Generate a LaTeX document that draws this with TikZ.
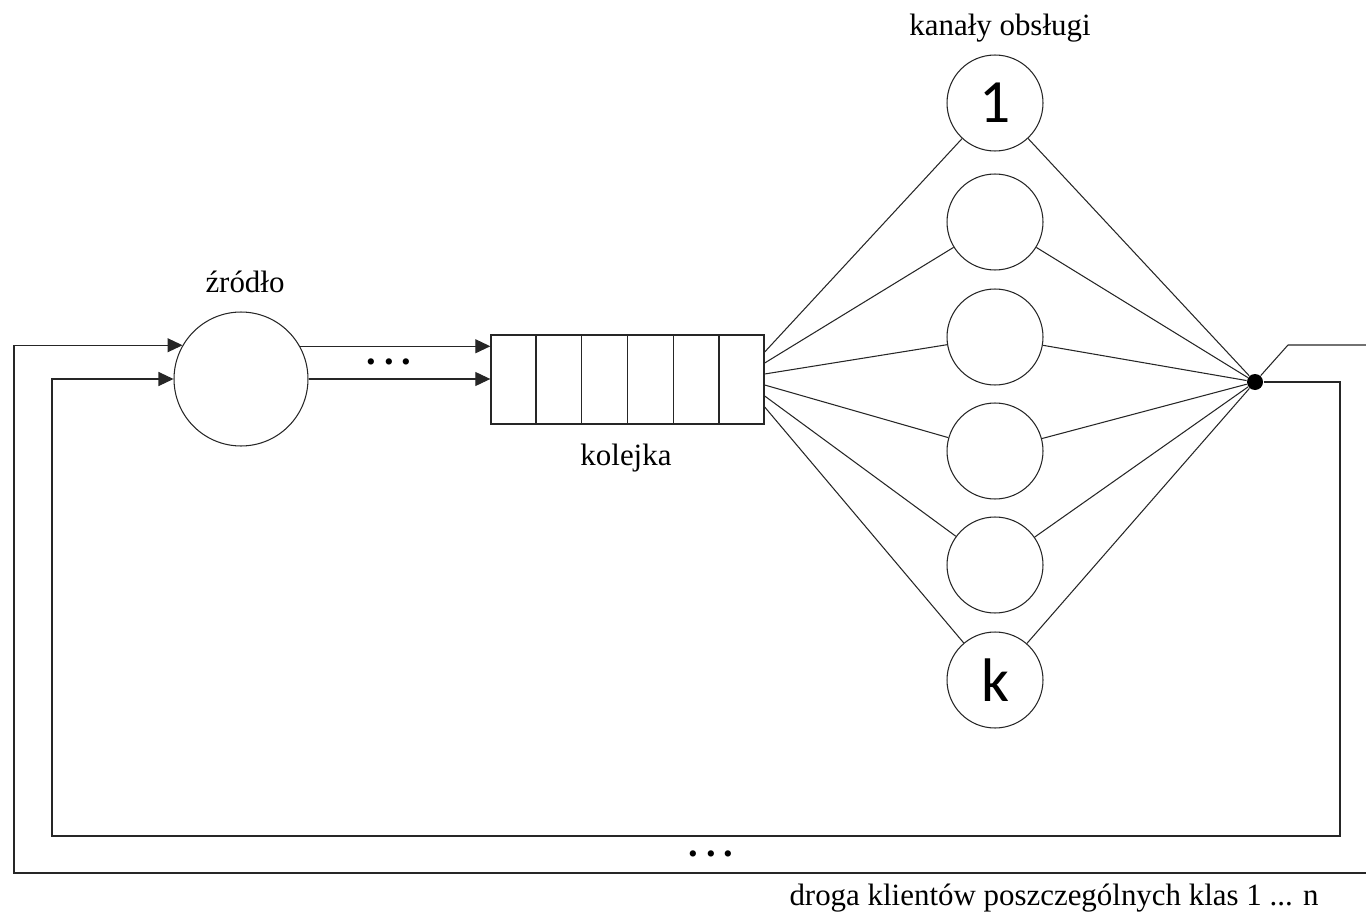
\documentclass[tikz,border=0pt]{standalone}
\usepackage{fontspec}
\setmainfont{Liberation Serif}
\newfontfamily\numfont{Carlito}
\usetikzlibrary{arrows.meta,calc}
\begin{document}
\begin{tikzpicture}[x=0.02cm,y=-0.02cm,
  line width=0.6pt,
  conn/.style={draw=black!85},
  arr/.style={conn,-{Triangle[length=0.3cm,width=0.28cm]}},
  srcnode/.style={circle,draw=black!85,minimum size=2.68cm,inner sep=0pt},
  server/.style={circle,draw=black!85,minimum size=1.92cm,inner sep=0pt,
    font=\numfont\fontsize{35}{35}\selectfont},
  queuebox/.style={draw=black!85,line width=0.8pt,minimum width=5.46cm,
    minimum height=1.78cm,inner sep=0pt},
  junction/.style={circle,fill=black,inner sep=0pt,minimum size=0.32cm},
  lbl/.style={font=\fontsize{17.6}{20}\selectfont,inner sep=0pt},
  dotrow/.style={font=\fontsize{22}{24}\selectfont\bfseries,inner sep=0pt}
]
\useasboundingbox (0,0) rectangle (1366,919);

% source, queue and service channels
\node[srcnode] (src) at (241,379) {};
\node[queuebox] (q) at (627.5,379.5) {};
\foreach \i in {1,...,5}
  \draw[conn,line width=0.8pt] ($(q.south west)!\i/6!(q.south east)$) -- ($(q.north west)!\i/6!(q.north east)$);

\node[server] (s1) at (995,103) {1};
\node[server] (s2) at (995,222) {};
\node[server] (s3) at (995,337) {};
\node[server] (s4) at (995,451) {};
\node[server] (s5) at (995,565) {};
\node[server] (s6) at (995,680) {k};

\node[junction] (j) at (1255,382) {};

% labels
\node[lbl] (lsrc) at (245,282) {źródło};
\node[lbl] (lq) at (626,458) {kolejka};
\node[lbl] (lsrv) at (1000,28) {kanały obsługi};
\node[dotrow] (dots1) at (389,362) {.\hspace{0.21em}.\hspace{0.21em}.};
\node[dotrow] (dots2) at (711,854) {.\hspace{0.21em}.\hspace{0.21em}.};
\node[lbl] (lroute) at (1054,898) {droga klientów poszczególnych klas 1 ... n};

% source to queue
\draw[arr] (src.29.5) -- (src.29.5 -| q.west);
\draw[arr] (src.east) -- (src.east -| q.west);

% queue to channels, channels to junction
\foreach \i in {1,...,6} {
  \draw[conn] ($(q.east)+(0,{(\i-3.5)*11})$) -- (s\i);
  \draw[conn] (s\i) -- (j);
}

% outgoing and returning paths
\coordinate (ex1) at (1288,345);
\coordinate (exR) at (1366,345);
\draw[conn] (j) -- (ex1) -- (exR);

\coordinate (c1) at (1340,836);
\coordinate (c2) at (52,836);
\draw[arr] (j) -| (c1) -- (c2) |- (src.west);

\coordinate (o1) at (1366,873);
\coordinate (o2) at (14,873);
\draw[arr] (o1) -- (o2) |- (src.150.5);
\end{tikzpicture}
\end{document}
